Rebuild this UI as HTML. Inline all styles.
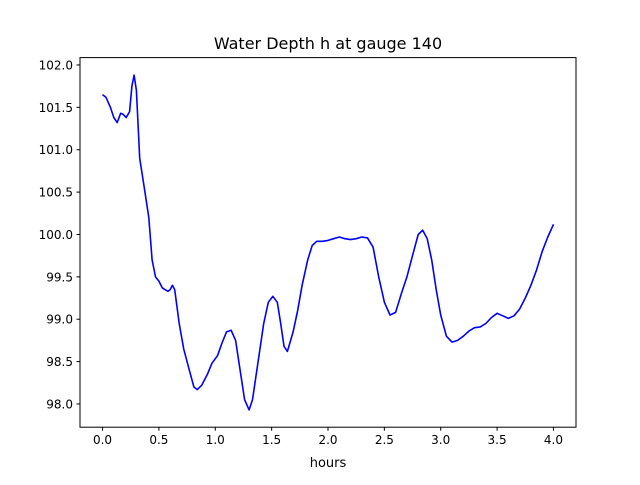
<!DOCTYPE html>
<html><head><meta charset="utf-8"><style>
body{margin:0;background:#fff;font-family:"Liberation Sans","DejaVu Sans",sans-serif;}
svg text{font-family:"DejaVu Sans","Liberation Sans",sans-serif;}
</style></head><body>
<svg id="chart" width="640" height="480" xmlns="http://www.w3.org/2000/svg">
<rect width="640" height="480" fill="#fff"/>
<text x="328" y="49" text-anchor="middle" font-size="16">Water Depth h at gauge 140</text>
<text x="328" y="467" text-anchor="middle" font-size="13">hours</text>
<g id="ticks"></g>
<path id="line" fill="none" stroke="#0000ff" stroke-width="1.6" stroke-linejoin="round"/>
<rect x="80" y="57.6" width="496" height="369.6" fill="none" stroke="#000" stroke-width="1"/>
</svg>
<script>
const hours=[0,0.03,0.07,0.1,0.13,0.16,0.18,0.21,0.24,0.26,0.28,0.3,0.33,0.37,0.41,0.44,0.47,0.5,0.53,0.58,0.6,0.62,0.64,0.68,0.72,0.77,0.81,0.84,0.88,0.93,0.97,1.02,1.06,1.1,1.14,1.18,1.22,1.26,1.3,1.33,1.38,1.43,1.47,1.51,1.55,1.58,1.61,1.64,1.69,1.73,1.77,1.82,1.86,1.9,1.95,2.0,2.05,2.1,2.15,2.2,2.25,2.3,2.35,2.4,2.45,2.5,2.55,2.6,2.65,2.7,2.75,2.8,2.84,2.88,2.92,2.96,3.0,3.05,3.1,3.15,3.2,3.25,3.3,3.35,3.4,3.45,3.5,3.55,3.6,3.65,3.7,3.75,3.8,3.85,3.9,3.95,4.0];
const depth=[101.65,101.62,101.5,101.38,101.32,101.43,101.42,101.38,101.45,101.75,101.88,101.7,100.9,100.55,100.2,99.7,99.5,99.45,99.37,99.33,99.35,99.4,99.35,98.95,98.65,98.4,98.2,98.17,98.22,98.35,98.48,98.57,98.72,98.85,98.87,98.75,98.4,98.05,97.93,98.05,98.5,98.95,99.2,99.27,99.2,98.95,98.68,98.62,98.85,99.1,99.4,99.7,99.87,99.92,99.92,99.93,99.95,99.97,99.95,99.94,99.95,99.97,99.96,99.85,99.5,99.2,99.05,99.08,99.3,99.5,99.75,100.0,100.05,99.95,99.7,99.35,99.05,98.8,98.73,98.75,98.8,98.86,98.9,98.91,98.95,99.02,99.07,99.04,99.01,99.04,99.12,99.25,99.4,99.58,99.8,99.97,100.12];
const xTicks=[0,0.5,1,1.5,2,2.5,3,3.5,4];
const xTickLabels=["0.0","0.5","1.0","1.5","2.0","2.5","3.0","3.5","4.0"];
const yTicks=[98,98.5,99,99.5,100,100.5,101,101.5,102];
const yTickLabels=["98.0","98.5","99.0","99.5","100.0","100.5","101.0","101.5","102.0"];
const L=80,R=576,T=57.6,B=427.2;
const xmin=-0.2,xmax=4.2,ymin=97.726,ymax=102.087;
const sx=v=>L+(v-xmin)/(xmax-xmin)*(R-L);
const sy=v=>B-(v-ymin)/(ymax-ymin)*(B-T);
const NS="http://www.w3.org/2000/svg";
const g=document.getElementById('ticks');
function mk(t,a){const e=document.createElementNS(NS,t);for(const k in a)e.setAttribute(k,a[k]);return e;}
xTicks.forEach((v,i)=>{
  const l=mk('line',{x1:sx(v),x2:sx(v),y1:B,y2:B+3.5,stroke:'#000'});
  
  
  g.appendChild(l);
  const t=mk('text',{x:sx(v),y:B+17,'text-anchor':'middle','font-size':'12'});
  
  
  t.textContent=xTickLabels[i];g.appendChild(t);
});
yTicks.forEach((v,i)=>{
  const l=mk('line',{x1:L-3.5,x2:L,y1:sy(v),y2:sy(v),stroke:'#000'});
  
  
  g.appendChild(l);
  const t=mk('text',{x:L-7,y:sy(v)+4.5,'text-anchor':'end','font-size':'12'});
  
  
  t.textContent=yTickLabels[i];g.appendChild(t);
});
document.getElementById('line').setAttribute('d',hours.map((h,i)=>(i?'L':'M')+sx(h).toFixed(1)+','+sy(depth[i]).toFixed(1)).join(''));
</script>
</body></html>
